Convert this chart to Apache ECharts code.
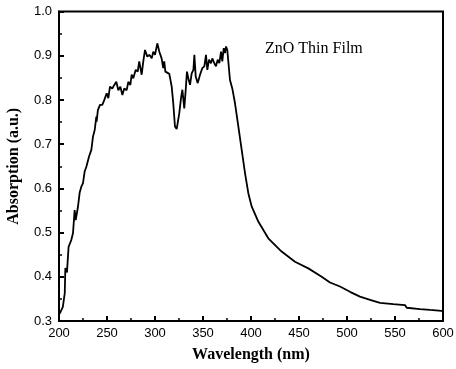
<!DOCTYPE html>
<html>
<head>
<meta charset="utf-8">
<script src="https://cdn.jsdelivr.net/npm/echarts@6/dist/echarts.min.js"></script>
<style>
  html, body { margin: 0; padding: 0; background: #fff; }
  #chart { width: 456px; height: 369px; }
</style>
</head>
<body>
<div id="chart"></div>
<script>
// Absorption spectrum of a ZnO thin film
const wavelength = [
  200.5, 201.7, 204.0, 206.0, 206.6, 208.3, 210.0, 212.8, 214.6, 216.3,
  217.4, 219.8, 221.5, 223.3, 225.0, 226.7, 228.5, 231.3, 233.7, 235.4,
  237.2, 238.9, 239.2, 240.5, 242.7, 245.1, 247.2, 249.7, 251.4, 253.1,
  255.5, 257.6, 259.7, 261.8, 263.9, 266.0, 268.0, 270.5, 272.2, 274.3,
  275.7, 277.4, 279.9, 282.0, 283.6, 286.1, 287.8, 289.6, 292.0, 294.1,
  296.6, 298.2, 300.0, 302.4, 304.5, 306.9, 308.6, 309.6, 310.8, 312.8,
  314.9, 317.4, 319.0, 320.8, 322.6, 324.3, 325.3, 327.1, 328.5, 330.5,
  332.0, 333.3, 334.7, 336.5, 338.2, 340.0, 341.0, 342.4, 344.5, 346.9,
  349.3, 351.4, 353.1, 354.5, 356.3, 358.3, 359.7, 361.8, 363.5, 365.3,
  367.0, 368.8, 370.1, 371.6, 372.9, 374.0, 375.3, 376.4, 378.1, 380.5,
  383.3, 386.8, 390.3, 393.8, 397.2, 400.7, 407.6, 418.0, 431.9, 445.8,
  459.7, 473.6, 482.3, 492.7, 503.1, 513.5, 524.0, 534.4, 548.2, 560.4,
  562.2, 576.0, 586.5, 598.6, 600.0
];
const absorption = [
  0.316, 0.321, 0.332, 0.363, 0.420, 0.410, 0.468, 0.483, 0.499, 0.551,
  0.528, 0.559, 0.590, 0.604, 0.612, 0.638, 0.649, 0.672, 0.687, 0.717,
  0.732, 0.762, 0.751, 0.777, 0.789, 0.789, 0.800, 0.815, 0.804, 0.830,
  0.826, 0.834, 0.841, 0.822, 0.830, 0.811, 0.826, 0.822, 0.841, 0.834,
  0.857, 0.849, 0.868, 0.864, 0.887, 0.857, 0.887, 0.913, 0.898, 0.902,
  0.894, 0.909, 0.902, 0.928, 0.909, 0.894, 0.872, 0.887, 0.864, 0.860,
  0.859, 0.830, 0.793, 0.740, 0.734, 0.732, 0.770, 0.804, 0.823, 0.781,
  0.823, 0.864, 0.849, 0.834, 0.860, 0.868, 0.902, 0.853, 0.838, 0.857,
  0.872, 0.876, 0.902, 0.868, 0.891, 0.883, 0.894, 0.883, 0.876, 0.891,
  0.883, 0.909, 0.887, 0.917, 0.906, 0.921, 0.913, 0.917, 0.845, 0.826,
  0.793, 0.740, 0.687, 0.634, 0.589, 0.559, 0.525, 0.487, 0.457, 0.434,
  0.419, 0.400, 0.387, 0.378, 0.366, 0.355, 0.348, 0.341, 0.338, 0.336,
  0.330, 0.327, 0.325, 0.323, 0.322
];
const xTicks = { min: 200, max: 600, step: 50 };
const yTicks = { min: 0.3, max: 1.0, step: 0.1 };
const annotation = 'ZnO Thin Film';

const points = wavelength.map((w, i) => [w, absorption[i]]);

const chart = echarts.init(document.getElementById('chart'), null, { renderer: 'canvas' });
const tickFont = { fontFamily: 'Liberation Sans, Arial, sans-serif', fontSize: 13, color: '#000' };
const nameFont = { fontFamily: 'Liberation Serif, Times New Roman, serif', fontSize: 16, fontWeight: 'bold', color: '#000' };

chart.setOption({
  animation: false,
  backgroundColor: '#fff',
  grid: {
    left: 59, right: 13, top: 11.5, bottom: 48,
    containLabel: false, outerBoundsMode: 'none',
    show: true, borderColor: '#000', borderWidth: 2, backgroundColor: 'transparent'
  },
  xAxis: {
    type: 'value',
    min: xTicks.min, max: xTicks.max, interval: xTicks.step,
    name: 'Wavelength (nm)', nameLocation: 'middle', nameGap: 26,
    nameTextStyle: nameFont,
    axisLine: { lineStyle: { color: '#000', width: 2 } },
    axisTick: { inside: true, length: 5, lineStyle: { color: '#000', width: 2 } },
    minorTick: { show: true, splitNumber: 2, length: 3, lineStyle: { color: '#000', width: 1.5 } },
    axisLabel: Object.assign({ margin: 6 }, tickFont),
    splitLine: { show: false }
  },
  yAxis: {
    type: 'value',
    min: yTicks.min, max: yTicks.max, interval: yTicks.step,
    name: 'Absorption (a.u.)', nameLocation: 'middle', nameGap: 37,
    nameTextStyle: nameFont,
    axisLine: { show: true, lineStyle: { color: '#000', width: 2 } },
    axisTick: { show: true, inside: true, length: 5, lineStyle: { color: '#000', width: 2 } },
    minorTick: { show: true, splitNumber: 2, length: 3, lineStyle: { color: '#000', width: 1.5 } },
    axisLabel: Object.assign({ margin: 7, formatter: v => v.toFixed(1) }, tickFont),
    splitLine: { show: false }
  },
  graphic: [{
    type: 'text', left: 265, top: 41,
    style: {
      text: annotation,
      font: '16px "Liberation Serif", "Times New Roman", serif',
      fill: '#000'
    }
  }],
  series: [{
    type: 'line',
    data: points,
    showSymbol: false,
    smooth: false,
    lineStyle: { color: '#000', width: 1.8 }
  }]
});
</script>
</body>
</html>
